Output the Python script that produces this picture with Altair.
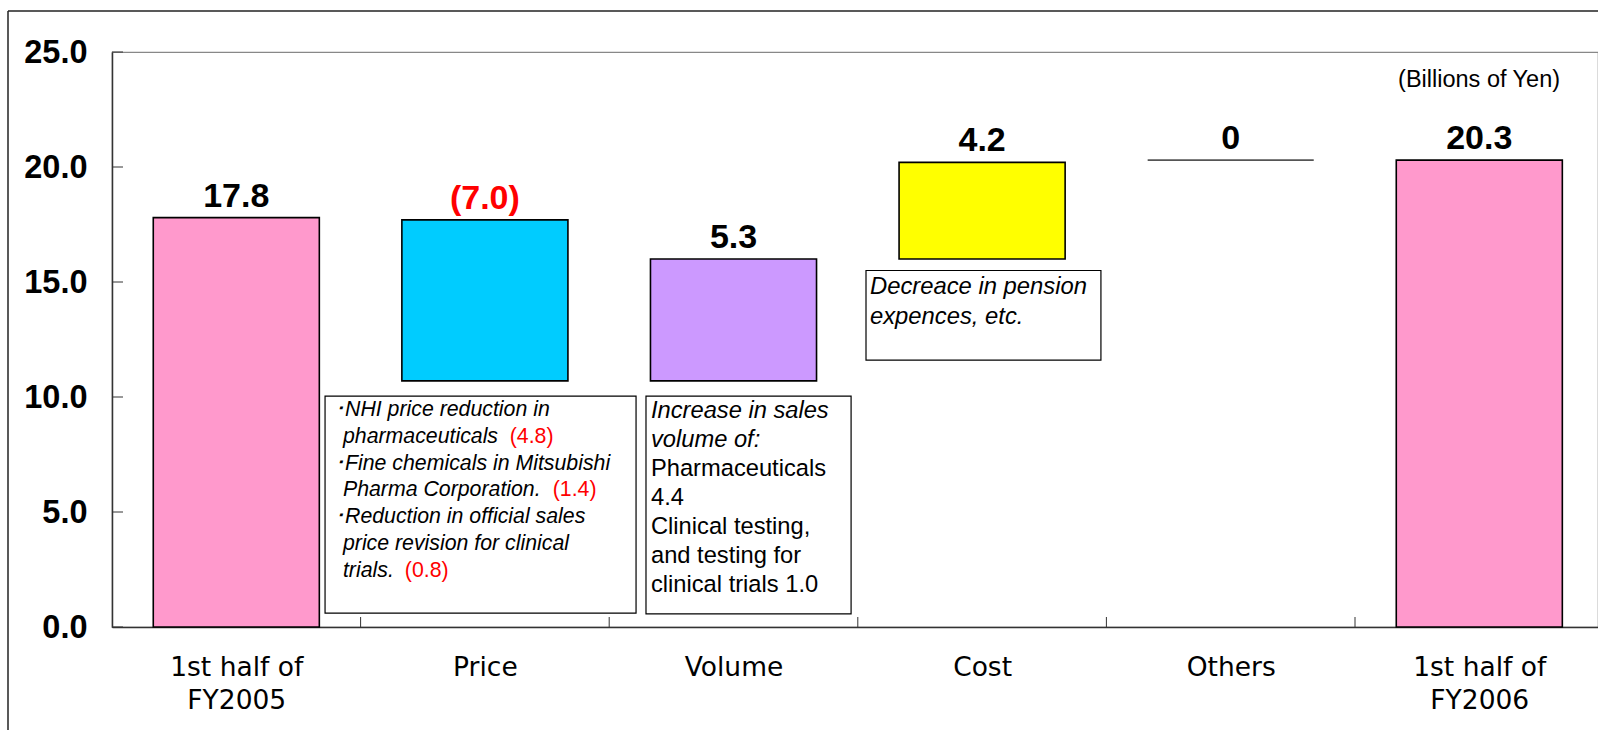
import altair as alt
import pandas as pd

# ---------------- data ----------------
categories = ["1st half of|FY2005", "Price", "Volume", "Cost", "Others", "1st half of|FY2006"]
bar_bottoms = [0.0, 10.7, 10.7, 16.0, 20.3, 0.0]
bar_tops = [17.8, 17.7, 16.0, 20.2, 20.3, 20.3]
value_labels = ["17.8", "(7.0)", "5.3", "4.2", "0", "20.3"]
y_ticks = [0, 5, 10, 15, 20, 25]
unit_text = "(Billions of Yen)"

price_notes = ["･NHI price reduction in", "pharmaceuticals", "･Fine chemicals in Mitsubishi",
               "Pharma Corporation.", "･Reduction in official sales", "price revision for clinical",
               "trials."]
price_amounts = ["(4.8)", "(1.4)", "(0.8)"]
volume_notes_italic = ["Increase in sales", "volume of:"]
volume_notes = ["Pharmaceuticals", "4.4", "Clinical testing,", "and testing for", "clinical trials 1.0"]
cost_notes = ["Decreace in pension", "expences, etc."]

# ---------------- styles / layout ----------------
bar_fills = ["#FF99CC", "#00CCFF", "#CC99FF", "#FFFF00", "transparent", "#FF99CC"]
bar_strokes = ["#000000", "#000000", "#000000", "#000000", "#555555", "#000000"]
label_colors = ["#000000", "#FF0000", "#000000", "#000000", "#000000", "#000000"]
W, H = 1486, 575
XMAX = W / 248.6
HALF = 0.334

rows = []
for i, c in enumerate(categories):
    s, e = bar_bottoms[i], bar_tops[i]
    rows.append(dict(cat=c, start=s, end=e, top=max(s, e), xc=i + 0.5,
                     x0=i + 0.5 - HALF, x1=i + 0.5 + HALF,
                     label=value_labels[i], fill=bar_fills[i], stroke=bar_strokes[i],
                     lcolor=label_colors[i]))
df = pd.DataFrame(rows)

xs = alt.Scale(domain=[0, XMAX], nice=False, zero=False)
ys = alt.Scale(domain=[0, 25], nice=False, zero=False)

label_expr = ("split([" + ",".join("'" + c + "'" for c in categories) +
              "][floor(datum.value)], '|')")

bars = alt.Chart(df).mark_bar(strokeWidth=1.6).encode(
    x=alt.X("x0:Q", scale=xs, title="",
            axis=alt.Axis(values=[i + 0.5 for i in range(len(categories))], labelExpr=label_expr)),
    x2="x1:Q",
    y=alt.Y("start:Q", scale=ys, title="", axis=alt.Axis(values=y_ticks, format=".1f")),
    y2="end:Q",
    fill=alt.Fill("fill:N", scale=None),
    stroke=alt.Stroke("stroke:N", scale=None),
)

labels = alt.Chart(df).mark_text(font="Liberation Sans", fontSize=34, fontWeight="bold",
                                 baseline="alphabetic", dy=-11).encode(
    x=alt.X("xc:Q", scale=xs, title=""),
    y=alt.Y("top:Q", scale=ys, title=""),
    text="label:N",
    color=alt.Color("lcolor:N", scale=None),
)

ytick_df = pd.DataFrame({"v": y_ticks})
yticks = alt.Chart(ytick_df).mark_rule(color="#333333", strokeWidth=1).encode(
    y=alt.Y("v:Q", scale=ys, title=""), x=alt.value(0), x2=alt.value(11))

xtick_df = pd.DataFrame({"b": list(range(1, len(categories)))})
xticks = alt.Chart(xtick_df).mark_rule(color="#333333", strokeWidth=1).encode(
    x=alt.X("b:Q", scale=xs, title=""), y=alt.value(H - 10), y2=alt.value(H))

# annotation boxes (data units)
boxes_df = pd.DataFrame({
    "bx0": [0.857, 2.148, 3.033],
    "bx1": [2.108, 2.973, 3.978],
    "by0": [10.04, 10.04, 15.5],
    "by1": [0.6, 0.57, 11.6],
})
boxes = alt.Chart(boxes_df).mark_rect(fill="white", stroke="#000000", strokeWidth=1.2).encode(
    x=alt.X("bx0:Q", scale=xs, title=""), x2="bx1:Q",
    y=alt.Y("by0:Q", scale=ys, title=""), y2="by1:Q")


def lines(texts, x_list, y_top, step):
    return pd.DataFrame({"t": texts, "x": x_list,
                         "y": [y_top - k * step for k in range(len(texts))]})


p_x = [0.893 if t.startswith("･") else 0.929 for t in price_notes]
price_df = lines(price_notes, p_x, 9.17, 1.165)
amount_df = pd.DataFrame({"t": price_amounts, "x": [1.600, 1.773, 1.178],
                          "y": [9.17 - 1.165 * k for k in (1, 3, 6)]})
vol_all = volume_notes_italic + volume_notes
vol_df = lines(vol_all, [2.168] * len(vol_all), 9.09, 1.261)
vol_it_df = vol_df.iloc[:len(volume_notes_italic)]
vol_rg_df = vol_df.iloc[len(volume_notes_italic):]
cost_df = lines(cost_notes, [3.049] * 2, 14.48, 1.3)


def text_layer(d, size, style, color="#000000"):
    return alt.Chart(d).mark_text(font="Liberation Sans", fontSize=size, fontStyle=style,
                                  align="left", baseline="alphabetic", color=color).encode(
        x=alt.X("x:Q", scale=xs, title=""), y=alt.Y("y:Q", scale=ys, title=""), text="t:N")


t_price = text_layer(price_df, 21.3, "italic")
t_amount = text_layer(amount_df, 21.3, "normal", "#FF0000")
t_vol_it = text_layer(vol_it_df, 23.7, "italic")
t_vol_rg = text_layer(vol_rg_df, 23.7, "normal")
t_cost = text_layer(cost_df, 23.8, "italic")

unit_df = pd.DataFrame({"t": [unit_text], "x": [5.825], "y": [23.48]})
t_unit = alt.Chart(unit_df).mark_text(font="Liberation Sans", fontSize=23.5, align="right",
                                      baseline="alphabetic", color="#000000").encode(
    x=alt.X("x:Q", scale=xs, title=""), y=alt.Y("y:Q", scale=ys, title=""), text="t:N")

one = pd.DataFrame({"k": [0]})
frame_top = alt.Chart(one).mark_rule(color="#222222", strokeWidth=1.5).encode(
    x=alt.value(-104), x2=alt.value(W + 20), y=alt.value(-41))
frame_left = alt.Chart(one).mark_rule(color="#222222", strokeWidth=1.5).encode(
    x=alt.value(-104), y=alt.value(-41), y2=alt.value(H + 120))

chart = alt.layer(
    frame_top, frame_left, bars, boxes, yticks, xticks, labels,
    t_price, t_amount, t_vol_it, t_vol_rg, t_cost, t_unit
).properties(
    width=W, height=H,
    autosize=alt.AutoSizeParams(type="none"),
    padding={"left": 112, "top": 52, "right": 0, "bottom": 103},
    background="white",
).configure_view(
    stroke="#888888", strokeWidth=1.2
).configure_axis(
    grid=False, ticks=False, tickSize=0, domainColor="#333333", domainWidth=1.5,
    labelColor="#000000",
).configure_axisX(
    labelFont="DejaVu Sans", labelFontSize=26.5, labelPadding=48, labelBaseline="alphabetic",
    labelLineHeight=33, labelFlush=False, labelOverlap=False, labelLimit=400,
).configure_axisY(
    labelFont="Liberation Sans", labelFontSize=32.5, labelFontWeight="bold", labelPadding=25,
    labelFlush=False, labelOverlap=False,
)

chart.save("out.html", embed_options={"renderer": "svg", "actions": False})
